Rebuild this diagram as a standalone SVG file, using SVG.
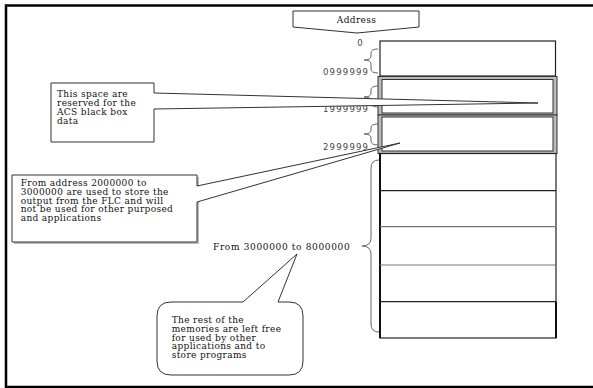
<svg xmlns="http://www.w3.org/2000/svg" width="593" height="388" viewBox="0 0 593 388">
<style>
.frame{fill:none;stroke:#000;stroke-width:2.5}
.co{fill:#fff;stroke:#333;stroke-width:1}
.t{font-family:"DejaVu Serif","Liberation Serif",serif;font-size:9px;letter-spacing:0.35px;fill:#111}
.n{font-family:"DejaVu Sans","Liberation Sans",sans-serif;font-size:8.5px;fill:#444}
.br{fill:none;stroke:#666;stroke-width:1}
.cell{fill:#fff;stroke:#222;stroke-width:1.2}
.hl{stroke:#222;stroke-width:1.2}
.hg{stroke:#777;stroke-width:1.2}
</style>
<path class="frame" d="M593,5.5 H6 V387 H593"/>

<g id="memory">
  <rect class="cell" x="380" y="41" width="175.5" height="35"/>
  <rect x="378" y="76.5" width="179" height="38.5" fill="#bbb" stroke="#333" stroke-width="1"/>
  <rect x="382" y="79.5" width="171" height="33.5" fill="#fff" stroke="#333" stroke-width="1"/>
  <rect x="378" y="115" width="179" height="38.5" fill="#bbb" stroke="#333" stroke-width="1"/>
  <rect x="382" y="117" width="171" height="34" fill="#fff" stroke="#333" stroke-width="1"/>
  <rect class="cell" x="380" y="153.5" width="176" height="184.5"/>
  <line x1="380" y1="153.5" x2="380" y2="338" stroke="#111" stroke-width="2"/>
  <line x1="556" y1="301.5" x2="556" y2="338" stroke="#111" stroke-width="2"/>
  <line class="hl" x1="380" y1="190.7" x2="556" y2="190.7"/>
  <line class="hg" x1="380" y1="226.7" x2="556" y2="226.7"/>
  <line class="hg" x1="380" y1="265" x2="556" y2="265"/>
  <line class="hl" x1="380" y1="301.7" x2="556" y2="301.7"/>
</g>

<g id="braces">
  <path class="br" d="M378,49 Q371,49 371,53 V56 Q371,60 364,60 Q371,60 371,64 V69 Q371,73 378,73"/>
  <path class="br" d="M378,86 Q371,86 371,90 V93 Q371,97 364,97 Q371,97 371,101 V103 Q371,107 378,107"/>
  <path class="br" d="M378,124 Q371,124 371,128 V130 Q371,134 364,134 Q371,134 371,138 V141 Q371,145 378,145"/>
  <path class="br" d="M379,160 Q371,160 371,168 V238 Q371,246 362,246 Q371,246 371,254 V324 Q371,332 379,332"/>
</g>

<g id="labels">
  <text class="n" x="360" y="46" text-anchor="middle">0</text>
  <text class="n" x="323" y="74.5" textLength="45">0999999</text>
  <text class="n" x="323" y="112" textLength="45">1999999</text>
  <text class="n" x="323" y="150" textLength="45">2999999</text>
  <text class="t" x="213" y="249.5" textLength="137">From 3000000 to 8000000</text>
</g>

<g id="address">
  <path class="co" d="M293,11 H419 V27 L357,33 L293,27 Z"/>
  <text class="t" x="356.5" y="22.7" text-anchor="middle">Address</text>
</g>

<g id="callout-acs">
  <path class="co" d="M51,83 H154 V93 L538,103 L154,109 V142 H51 Z"/>
  <text class="t" x="57" y="97.3">This space are</text>
  <text class="t" x="57" y="106.3">reserved for the</text>
  <text class="t" x="57" y="115.3">ACS black box</text>
  <text class="t" x="57" y="124.3">data</text>
</g>

<g id="callout-flc">
  <path d="M14,177 H199 V244 H14 Z" fill="#bbb" stroke="none"/>
  <path class="co" d="M12,175 H197 V186 L400,143 L197,202 V242 H12 Z"/>
  <text class="t" x="20.7" y="186">From address 2000000 to</text>
  <text class="t" x="20.7" y="194.8">3000000 are used to store the</text>
  <text class="t" x="20.7" y="203.6">output from the FLC and will</text>
  <text class="t" x="20.7" y="212.4">not be used for other purposed</text>
  <text class="t" x="20.7" y="221.2">and applications</text>
</g>

<g id="callout-rest">
  <path class="co" d="M171,302 H243 L297,254 L278,302 H289 Q303,302 303,316 V361 Q303,375 289,375 H171 Q157,375 157,361 V316 Q157,302 171,302 Z"/>
  <text class="t" x="171.7" y="323">The rest of the</text>
  <text class="t" x="171.7" y="331.8">memories are left free</text>
  <text class="t" x="171.7" y="340.6">for used by other</text>
  <text class="t" x="171.7" y="349.4">applications and to</text>
  <text class="t" x="171.7" y="358.2">store programs</text>
</g>
</svg>
